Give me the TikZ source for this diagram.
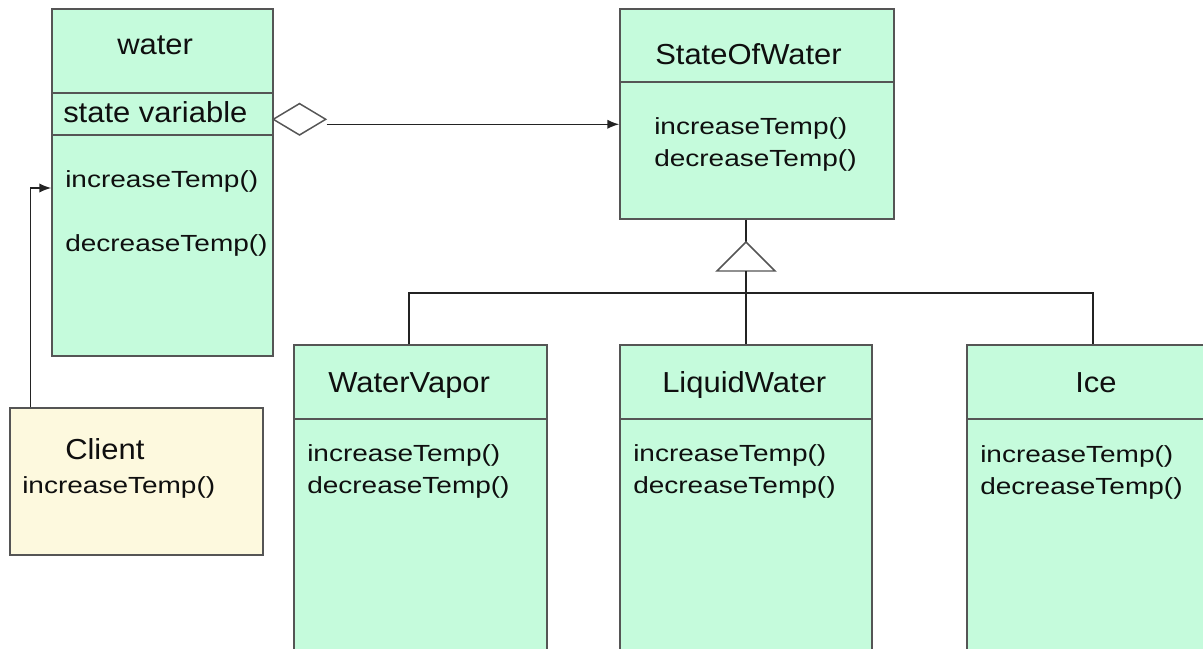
\documentclass[tikz,border=0pt]{standalone}
\usepackage{fontspec}
\setmainfont{Liberation Sans}
\newfontfamily\titlefont{Liberation Sans}[FakeStretch=1.07]
\newfontfamily\methfont{Liberation Sans}[FakeStretch=1.2]
\usetikzlibrary{fit,arrows.meta,shapes.geometric}
\definecolor{boxgreen}{RGB}{197,251,220}
\definecolor{clientyellow}{RGB}{253,249,222}
\definecolor{edgegray}{RGB}{85,85,85}
\definecolor{conncol}{RGB}{35,35,35}
\definecolor{txtcol}{RGB}{15,15,15}
\begin{document}
\begin{tikzpicture}[x=0.75pt,y=-0.75pt,
  classbox/.style={draw=edgegray, line width=1.1pt, fill=boxgreen, inner sep=0pt},
  clientbox/.style={draw=edgegray, line width=1.1pt, fill=clientyellow, inner sep=0pt},
  divider/.style={draw=edgegray, line width=1.1pt},
  connline/.style={draw=conncol, line width=1.15pt},
  shapeline/.style={draw=edgegray, line width=1.1pt, fill=white},
  arrowtip/.style={-{Latex[length=9pt,width=7pt]}},
  titletext/.style={anchor=base west, inner sep=0pt, text=txtcol, font=\titlefont\fontsize{21.7}{26}\selectfont},
  methtext/.style={anchor=base west, inner sep=0pt, text=txtcol, font=\methfont\fontsize{17.5}{21}\selectfont}]
\useasboundingbox (0,0) rectangle (1203,649);
\clip (0,0) rectangle (1203,649);

% class boxes
\node[classbox, fit={(52,9) (273,356)}] (water) {};
\draw[divider] (water.west |- 0,93) -- (water.east |- 0,93);
\draw[divider] (water.west |- 0,135) -- (water.east |- 0,135);

\node[classbox, fit={(620,9) (894,219)}] (sow) {};
\draw[divider] (sow.west |- 0,82) -- (sow.east |- 0,82);

\node[classbox, fit={(294,345) (547,660)}] (wv) {};
\draw[divider] (wv.west |- 0,419) -- (wv.east |- 0,419);

\node[classbox, fit={(620,345) (872,660)}] (liquid) {};
\draw[divider] (liquid.west |- 0,419) -- (liquid.east |- 0,419);

\node[classbox, fit={(967,345) (1219,660)}] (ice) {};
\draw[divider] (ice.west |- 0,419) -- (ice.east |- 0,419);

\node[clientbox, fit={(10,408) (263,555)}] (client) {};

% texts
\node[titletext] at (117,55) {water};
\node[titletext] at (63,123) {state variable};
\node[methtext] at (65,188) {increaseTemp()};
\node[methtext] at (65,252) {decreaseTemp()};

\node[titletext] at (655,65) {StateOfWater};
\node[methtext] at (654,135) {increaseTemp()};
\node[methtext] at (654,167) {decreaseTemp()};

\node[titletext] at (328,392) {WaterVapor};
\node[methtext] at (307,461) {increaseTemp()};
\node[methtext] at (307,493) {decreaseTemp()};

\node[titletext] at (662,392) {LiquidWater};
\node[methtext] at (633,461) {increaseTemp()};
\node[methtext] at (633,493) {decreaseTemp()};

\node[titletext] at (1075,392) {Ice};
\node[methtext] at (980,462) {increaseTemp()};
\node[methtext] at (980,494) {decreaseTemp()};

\node[titletext] at (65,459) {Client};
\node[methtext] at (22,493) {increaseTemp()};

% aggregation
\node[diamond, shapeline, minimum width=39.75pt, minimum height=24pt, inner sep=0pt] (agg) at (299.5,119.3) {};
\coordinate (aggout) at ([yshift=-3.75pt]agg.east);
\draw[connline, arrowtip] (aggout) -- (aggout -| sow.west);

% client call
\coordinate (cl) at ([xshift=15.75pt]client.north west);
\draw[connline, arrowtip] (cl) |- (water.west |- 0,188);

% generalization
\coordinate (apex) at (746,242);
\coordinate (tbase) at (746,271);
\coordinate (bus) at (746,293);
\coordinate (wvtop) at ([xshift=-8.625pt]wv.north);
\draw[connline] (apex |- sow.south) -- (apex);
\draw[shapeline] (apex) -- (717,271) -- (775,271) -- cycle;
\draw[connline] (tbase) -- (liquid.north);
\draw[connline] (wvtop) |- (bus) -| (ice.north);
\end{tikzpicture}
\end{document}
